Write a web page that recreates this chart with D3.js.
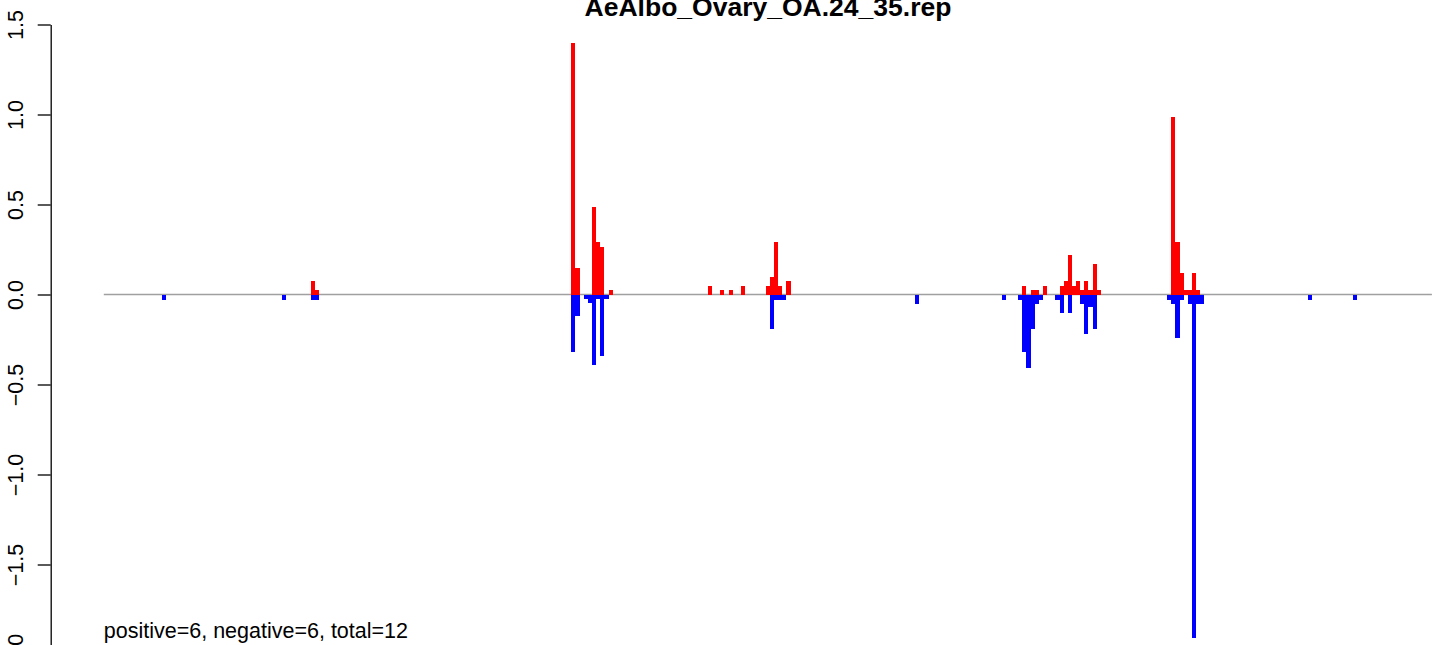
<!DOCTYPE html>
<html>
<head>
<meta charset="utf-8">
<script src="https://cdn.jsdelivr.net/npm/d3@7"></script>
<style>
  html, body { margin: 0; padding: 0; background: #fff; }
  svg { display: block; font-family: "Liberation Sans", Arial, Helvetica, sans-serif; }
</style>
</head>
<body>
<svg id="chart" width="1444" height="645"></svg>
<script>
// ---- data ----
const title = "AeAlbo_Ovary_OA.24_35.rep";
const footnote = "positive=6, negative=6, total=12";
const nPositions = 321;
const yTicks = [1.5, 1.0, 0.5, 0.0, -0.5, -1.0, -1.5, -2.0];

const posIndex = [50, 51, 113, 114, 118, 119, 120, 122, 146, 149, 151, 154, 160, 161, 162, 163, 165,
  222, 224, 225, 227, 231, 232, 233, 234, 235, 236, 237, 238, 239, 240, 258, 259, 260, 261, 262, 263, 264];
const posValue = [0.075, 0.026, 1.40, 0.148, 0.487, 0.293, 0.265, 0.026, 0.048, 0.026, 0.026, 0.048, 0.048, 0.098, 0.293, 0.048, 0.076,
  0.048, 0.026, 0.026, 0.048, 0.048, 0.076, 0.22, 0.048, 0.076, 0.026, 0.076, 0.026, 0.17, 0.026, 0.988, 0.293, 0.12, 0.026, 0.026, 0.12, 0.026];

const negIndex = [14, 43, 50, 51, 113, 114, 116, 117, 118, 119, 120, 121, 161, 162, 163, 164, 196,
  217, 221, 222, 223, 224, 225, 226, 230, 231, 233, 236, 237, 238, 239, 257, 258, 259, 260, 262, 263, 264, 265, 291, 302];
const negValue = [-0.03, -0.03, -0.03, -0.03, -0.317, -0.122, -0.026, -0.048, -0.389, -0.026, -0.339, -0.026, -0.194, -0.028, -0.028, -0.028, -0.05,
  -0.028, -0.028, -0.317, -0.41, -0.194, -0.05, -0.028, -0.028, -0.10, -0.10, -0.05, -0.222, -0.07, -0.194, -0.028, -0.05, -0.244, -0.028, -0.05, -1.91, -0.05, -0.05, -0.028, -0.028];

// ---- layout ----
const svg = d3.select("#chart");
const x = d3.scaleLinear().domain([0, nPositions]).range([103.8, 1431.9]);
const y = d3.scaleLinear().domain([-2, 1.5]).range([654.5, 24.5]);
const axisX = 50.7;

// title
svg.append("text")
  .attr("x", 768).attr("y", 16)
  .attr("text-anchor", "middle")
  .attr("font-weight", "bold")
  .attr("font-size", 26.5)
  .attr("fill", "#000")
  .text(title);

// baseline
svg.append("line")
  .attr("x1", x(0)).attr("x2", x(nPositions))
  .attr("y1", y(0)).attr("y2", y(0))
  .attr("stroke", "#a0a0a0").attr("stroke-width", 1.5);

// bars
const pos = posIndex.map((i, k) => ({ i, v: posValue[k] }));
const neg = negIndex.map((i, k) => ({ i, v: negValue[k] }));

svg.append("g").attr("shape-rendering", "crispEdges")
  .selectAll("rect").data(pos).join("rect")
  .attr("x", d => x(d.i))
  .attr("width", d => x(d.i + 1) - x(d.i))
  .attr("y", d => y(d.v))
  .attr("height", d => y(0) - y(d.v))
  .attr("fill", "#ff0000");

svg.append("g").attr("shape-rendering", "crispEdges")
  .selectAll("rect").data(neg).join("rect")
  .attr("x", d => x(d.i))
  .attr("width", d => x(d.i + 1) - x(d.i))
  .attr("y", y(0))
  .attr("height", d => y(d.v) - y(0))
  .attr("fill", "#0000ff");

// y axis
const fmt = d => (d < 0 ? "\u2212" : "") + Math.abs(d).toFixed(1);
const axis = d3.axisLeft(y).tickValues(yTicks).tickFormat(fmt).tickSize(13).tickSizeOuter(0);
const gA = svg.append("g").attr("transform", `translate(${axisX},0)`).call(axis);
gA.select(".domain").attr("stroke", "#000").attr("stroke-width", 1.3);
gA.selectAll(".tick line").attr("stroke", "#000").attr("stroke-width", 1.3);
gA.selectAll(".tick text")
  .attr("x", null).attr("dy", null).attr("y", 0)
  .attr("transform", "translate(-28,0) rotate(-90)")
  .attr("text-anchor", "middle")
  .attr("font-size", 21.5)
  .attr("font-family", "\"Liberation Sans\", Arial, Helvetica, sans-serif")
  .attr("fill", "#000");

// footnote
svg.append("text")
  .attr("x", x(0)).attr("y", 638)
  .attr("font-size", 21.5)
  .attr("fill", "#000")
  .text(footnote);
</script>
</body>
</html>
